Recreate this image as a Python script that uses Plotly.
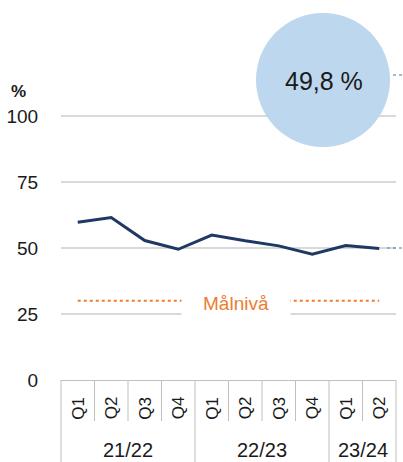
import plotly.graph_objects as go

# ---- data ----
quarters = ["Q1", "Q2", "Q3", "Q4", "Q1", "Q2", "Q3", "Q4", "Q1", "Q2"]
years = ["21/22"] * 4 + ["22/23"] * 4 + ["23/24"] * 2
values = [59.7, 61.5, 52.8, 49.5, 54.9, 52.7, 50.8, 47.6, 50.9, 49.8]
target = 30
target_label = "Målnivå"
y_ticks = [0, 25, 50, 75, 100]

cats = [f"{y} {q}" for y, q in zip(years, quarters)]
n = len(cats)

W, H = 403, 462
L, R, T, B = 61, 7, 0, 82
plot_h = H - T - B  # 380
ymax = 143.9

def py(px):  # pixel y -> paper y
    return (plot_h - px) / plot_h

def pxx(px):  # pixel x -> paper x
    return (px - L) / (W - L - R)

FONT = "Liberation Sans, Arial, sans-serif"
GRID = "#D9D9D9"
AX = "#BFBFBF"
TXT = "#1A1A1A"

fig = go.Figure()
fig.add_trace(go.Scatter(x=[cats[0], cats[-1]], y=[target, target], mode="lines",
                         line=dict(color="#ED7D31", width=2, dash="dot"),
                         hoverinfo="skip", showlegend=False))
fig.add_trace(go.Scatter(x=cats, y=values, mode="lines",
                         line=dict(color="#1F3864", width=3),
                         showlegend=False))

shapes = []
groups = []
for i, y in enumerate(years):
    if not groups or groups[-1][0] != y:
        groups.append([y, i, i + 1])
    else:
        groups[-1][2] = i + 1
group_edges = {0, n} | {g[1] for g in groups}
for k in range(n + 1):
    bottom = py(H) if k in group_edges else py(421)
    shapes.append(dict(type="line", xref="paper", yref="paper", x0=k / n, x1=k / n,
                       y0=0, y1=bottom, line=dict(color=AX, width=1)))
# bubble
shapes.append(dict(type="circle", xref="paper", yref="paper",
                   x0=pxx(256), x1=pxx(390), y0=py(147), y1=py(13),
                   fillcolor="#BDD7EE", line=dict(width=0), layer="above"))
# leader dots
shapes.append(dict(type="line", xref="paper", yref="paper", x0=pxx(393), x1=pxx(403),
                   y0=py(75), y1=py(75), line=dict(color="#4472C4", width=1, dash="dot")))
shapes.append(dict(type="line", xref="paper", yref="paper", x0=pxx(387), x1=pxx(403),
                   y0=py(248), y1=py(248), line=dict(color="#4472C4", width=1, dash="dot")))

C = dict(xanchor="center", yanchor="middle", showarrow=False)
annotations = []
for c, q in zip(cats, quarters):
    annotations.append(dict(x=c, xref="x", y=py(408), yref="paper", text=q,
                            textangle=-90, **C,
                            font=dict(family=FONT, size=17, color=TXT)))
for g, s, e in groups:
    annotations.append(dict(x=(s + e) / (2 * n), xref="paper", y=py(450), yref="paper",
                            text=g, **C,
                            font=dict(family=FONT, size=20, color=TXT)))
annotations.append(dict(x=pxx(236), xref="paper", y=target, yref="y", yshift=-2,
                        text=target_label, bgcolor="white", width=106, height=32, **C,
                        font=dict(family=FONT, size=19, color="#ED7D31")))
annotations.append(dict(x=pxx(324), xref="paper", y=py(81), yref="paper",
                        text=f"{values[-1]:.1f} %".replace(".", ","), **C,
                        font=dict(family=FONT, size=25, color=TXT)))
annotations.append(dict(x=pxx(18), xref="paper", y=py(92), yref="paper",
                        text="<b>%</b>", **C,
                        font=dict(family=FONT, size=17, color=TXT)))

fig.update_layout(
    width=W, height=H, autosize=False,
    margin=dict(l=L, r=R, t=T, b=B, pad=0),
    plot_bgcolor="white", paper_bgcolor="white",
    shapes=shapes, annotations=annotations,
    xaxis=dict(type="category", categoryarray=cats, range=[-0.5, n - 0.5],
               showticklabels=False, showgrid=False, zeroline=False,
               showline=False, ticks=""),
    yaxis=dict(range=[0, ymax], tickvals=y_ticks, showgrid=True, gridcolor=GRID,
               gridwidth=1.5, zeroline=True, zerolinecolor=AX, zerolinewidth=1,
               showline=False, ticks="outside", ticklen=18, tickcolor="rgba(0,0,0,0)",
               tickfont=dict(family=FONT, size=19, color=TXT)),
)

fig.write_html("out.html", config={"displayModeBar": False},
               post_script="document.body.style.margin='0';document.body.style.overflow='hidden';")
